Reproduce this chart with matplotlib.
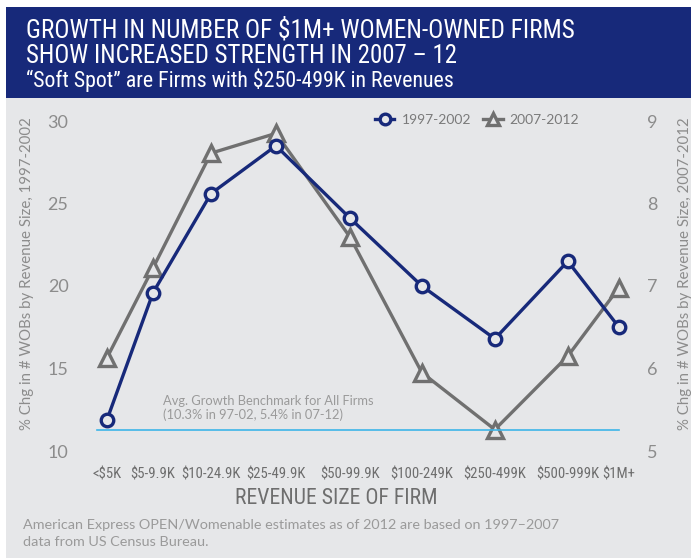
import matplotlib
matplotlib.use('Agg')
import matplotlib.pyplot as plt
from matplotlib import font_manager as fm
from matplotlib.patches import Rectangle

# ---------------- data ----------------
categories = ['<$5K', '$5-9.9K', '$10-24.9K', '$25-49.9K', '$50-99.9K',
              '$100-249K', '$250-499K', '$500-999K', '$1M+']
growth_97_02 = [11.9, 19.6, 25.6, 28.5, 24.1, 20.0, 16.8, 21.5, 17.5]
growth_07_12 = [6.13, 7.22, 8.61, 8.85, 7.59, 5.95, 5.26, 6.15, 6.98]
left_ticks = [10, 15, 20, 25, 30]
right_ticks = [5, 6, 7, 8, 9]
benchmark_left = 11.3

# ---------------- layout ----------------
slot_x = [0, 0.72, 1.625, 2.64, 3.80, 4.92, 6.06, 7.20, 8.0]
W, H = 691, 558
NAVY = '#17297a'
GRAY_LINE = '#707070'
BG = '#e6e7e9'
TXT = '#8c8c8c'
BENCH = '#3db5e8'

avail = {f.name for f in fm.fontManager.ttflist}
COND = None
for c in ['Roboto Condensed', 'Liberation Sans Narrow', 'Open Sans Condensed',
          'Noto Sans Condensed', 'DejaVu Sans Condensed']:
    if c in avail:
        COND = c
        break
if COND is None:
    COND = 'Roboto'
CF = [COND, 'DejaVu Sans']
RF = ['Lato', 'DejaVu Sans']

fig = plt.figure(figsize=(W / 100, H / 100), dpi=100)
fig.patch.set_facecolor('white')
fig.patches.append(Rectangle((6 / W, 0), 1, (H - 98) / H, transform=fig.transFigure,
                             facecolor=BG, edgecolor='none', zorder=-10))
fig.patches.append(Rectangle((6 / W, (H - 98) / H), 1, (98 - 7) / H, transform=fig.transFigure,
                             facecolor=NAVY, edgecolor='none', zorder=-10))

ax = fig.add_axes([90 / W, (H - 451) / H, 550 / W, 330 / H])
ax2 = ax.twinx()
ax.set_zorder(2)
ax2.set_zorder(1)
ax.patch.set_visible(False)
ax2.patch.set_visible(False)

ax.set_xlim(-17 / 64, 533 / 64)
ax.set_ylim(10, 30)
ax2.set_ylim(5, 9)

ax.axhline(benchmark_left, xmin=(97 - 90) / 550, xmax=(619 - 90) / 550,
           color=BENCH, lw=1.2, zorder=1)

l2, = ax2.plot(slot_x, growth_07_12, color=GRAY_LINE, lw=2.4, marker='^', ms=11,
               mfc=BG, mec=GRAY_LINE, mew=2.4, label='2007-2012', zorder=3)
l1, = ax.plot(slot_x, growth_97_02, color=NAVY, lw=2.4, marker='o', ms=9,
              mfc=BG, mec=NAVY, mew=2.4, label='1997-2002', zorder=4)

for a in (ax, ax2):
    for s in a.spines.values():
        s.set_visible(False)

ax.set_yticks(left_ticks)
ax2.set_yticks(right_ticks)
ax.set_xticks(slot_x)
ax.set_xticklabels(categories)
ax.tick_params(axis='y', length=0, pad=15.5, labelcolor=TXT, labelsize=13)
ax2.tick_params(axis='y', length=0, pad=5, labelcolor=TXT, labelsize=13)
ax.tick_params(axis='x', length=0, pad=12, labelcolor='#6e6e6e', labelsize=8.5)
for t in ax.get_yticklabels() + ax2.get_yticklabels():
    t.set_family(RF)
for t in ax.get_xticklabels():
    t.set_family(CF)

leg = ax.legend(handles=[l1, l2], loc='center left', ncol=2, frameon=False,
                bbox_to_anchor=(375 / W, 1 - 120 / H), bbox_transform=fig.transFigure,
                prop={'family': RF, 'size': 10}, handlelength=1.4, handletextpad=0.5,
                columnspacing=0.9, borderpad=0, borderaxespad=0, markerscale=0.85)
for t in leg.get_texts():
    t.set_color('#7a7a7a')

# texts
t1 = fig.text(26 / W, 1 - 37.3 / H, 'GROWTH IN NUMBER OF $1M+ WOMEN-OWNED FIRMS',
              color='white', family=CF, fontsize=18, va='baseline', ha='left')
t2 = fig.text(26 / W, 1 - 63.3 / H, 'SHOW INCREASED STRENGTH IN 2007 \u2013 12',
              color='white', family=CF, fontsize=18, va='baseline', ha='left')
t3 = fig.text(26 / W, 1 - 87 / H, '\u201cSoft Spot\u201d are Firms with $250-499K in Revenues',
              color='white', family=CF, fontsize=13, va='baseline', ha='left')
yl = fig.text(27 / W, 1 - 274 / H, '% Chg in # WOBs by Revenue Size, 1997-2002',
              rotation=90, color=TXT, family=RF, fontsize=10, ha='center', va='center')
yr = fig.text(685 / W, 1 - 273.5 / H, '% Chg in # WOBs by Revenue Size, 2007-2012',
              rotation=90, color=TXT, family=RF, fontsize=10, ha='center', va='center')
xl = fig.text(336 / W, 1 - 498 / H, 'REVENUE SIZE OF FIRM', color='#6e6e6e',
              family=CF, fontsize=12, ha='center', va='center')
f1 = fig.text(23 / W, 1 - 525 / H,
              'American Express OPEN/Womenable estimates as of 2012 are based on 1997\u20132007',
              color='#9a9a9a', family=RF, fontsize=10, ha='left', va='center')
f2 = fig.text(23 / W, 1 - 542 / H, 'data from US Census Bureau.',
              color='#9a9a9a', family=RF, fontsize=10, ha='left', va='center')
b1 = fig.text(163 / W, 1 - 401 / H, 'Avg. Growth Benchmark for All Firms',
              color='#9a9a9a', family=RF, fontsize=8.5, ha='left', va='center')
b2 = fig.text(163 / W, 1 - 415 / H, '(10.3% in 97-02, 5.4% in 07-12)',
              color='#9a9a9a', family=RF, fontsize=8.5, ha='left', va='center')

renderer = fig.canvas.get_renderer()


def fit(t, length_px, rotated=False):
    bb = t.get_window_extent(renderer)
    cur = bb.height if rotated else bb.width
    if cur > 0:
        t.set_fontsize(t.get_fontsize() * length_px / cur)


fit(t1, 549)
fit(t2, 432)
fit(t3, 427)
fit(yl, 312, rotated=True)
fit(yr, 313, rotated=True)
fit(xl, 201)
fit(f1, 536)
fit(b1, 213)
f2.set_fontsize(f1.get_fontsize())
b2.set_fontsize(b1.get_fontsize())

# x tick label size fitted on one label
xt = ax.get_xticklabels()
bb = xt[2].get_window_extent(renderer)
sz = xt[2].get_fontsize() * 58.6 / bb.width
for t in xt:
    t.set_fontsize(sz)

fig.savefig('out.png', dpi=100, facecolor=fig.get_facecolor())
